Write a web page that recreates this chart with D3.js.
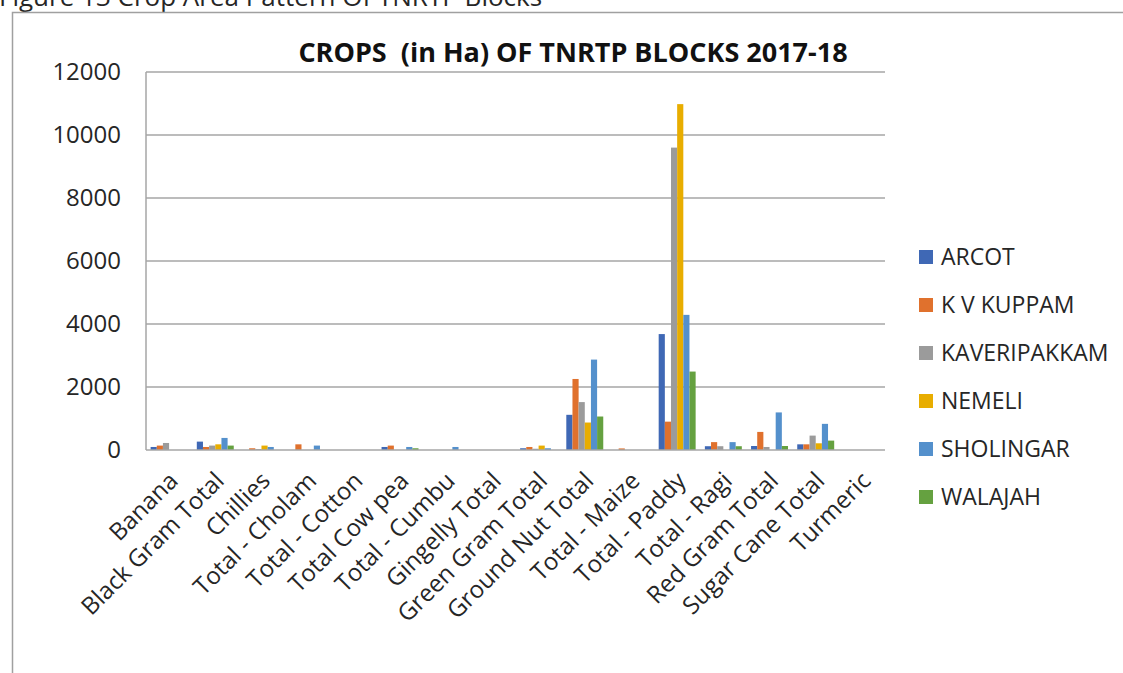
<!DOCTYPE html>
<html>
<head>
<meta charset="utf-8">
<script src="https://cdn.jsdelivr.net/npm/d3@7"></script>
<style>
  html, body { margin: 0; padding: 0; background: #fff; }
  svg { display: block; }
  text { font-family: "Open Sans", "Liberation Sans", sans-serif; fill: #262626; }
</style>
</head>
<body>
<svg id="chart" width="1123" height="673"></svg>
<script>
// Crop area (ha) per block, 2017-18
const categories = ["Banana", "Black Gram Total", "Chillies", "Total - Cholam", "Total - Cotton",
  "Total Cow pea", "Total - Cumbu", "Gingelly Total", "Green Gram Total", "Ground Nut Total",
  "Total - Maize", "Total - Paddy", "Total - Ragi", "Red Gram Total", "Sugar Cane Total", "Turmeric"];

const blocks = ["ARCOT", "K V KUPPAM", "KAVERIPAKKAM", "NEMELI", "SHOLINGAR", "WALAJAH"];

const arcot        = [96, 266, 0, 0, 0, 96, 0, 0, 55, 1117, 0, 3680, 120, 127, 180, 0];
const kvKuppam     = [140, 96, 55, 180, 0, 140, 0, 0, 96, 2255, 50, 900, 250, 574, 180, 0];
const kaveripakkam = [223, 140, 30, 0, 0, 0, 0, 0, 40, 1521, 0, 9600, 120, 96, 457, 0];
const nemeli       = [0, 180, 140, 0, 0, 0, 0, 0, 140, 872, 0, 10980, 0, 0, 213, 0];
const sholingar    = [0, 383, 96, 140, 0, 96, 96, 0, 55, 2870, 0, 4290, 250, 1193, 830, 0];
const walajah      = [0, 140, 0, 0, 0, 55, 0, 0, 0, 1063, 0, 2490, 120, 127, 298, 0];

const yTicks = [0, 2000, 4000, 6000, 8000, 10000, 12000];

const seriesValues = [arcot, kvKuppam, kaveripakkam, nemeli, sholingar, walajah];
const colors = ["#3f68b5", "#e0712d", "#9b9b9b", "#e8ad00", "#5490cc", "#65a140"];

const svg = d3.select("#chart");
const W = 1123, H = 673;
const plot = { left: 146, right: 885, top: 72, bottom: 450 };

svg.append("rect").attr("width", W).attr("height", H).attr("fill", "#fff");

// caption above the chart frame (runs into the top edge of the page)
svg.append("text")
  .attr("x", -1).attr("y", 6)
  .attr("font-size", 26)
  .text("Figure 13 Crop Area Pattern Of TNRTP Blocks");

// chart frame
svg.append("path")
  .attr("d", `M12.5,${H} V12.5 H${W}`)
  .attr("fill", "none").attr("stroke", "#a0a0a0").attr("stroke-width", 1.5);

// title
svg.append("text")
  .attr("x", 573).attr("y", 62)
  .attr("text-anchor", "middle")
  .attr("font-size", 27).attr("font-weight", "bold")
  .style("fill", "#111")
  .attr("xml:space", "preserve")
  .text("CROPS  (in Ha) OF TNRTP BLOCKS 2017-18");

const x0 = d3.scaleBand().domain(categories)
  .range([plot.left, plot.right]).paddingInner(0.2).paddingOuter(0.1);
const x1 = d3.scaleBand().domain(blocks).range([0, x0.bandwidth()]);
const y = d3.scaleLinear().domain([0, 12000]).range([plot.bottom, plot.top]);
const xc = d3.scaleBand().domain(categories).range([plot.left, plot.right]);

// gridlines
svg.append("g").selectAll("line").data(yTicks.filter(d => d > 0)).join("line")
  .attr("x1", plot.left).attr("x2", plot.right)
  .attr("y1", d => y(d)).attr("y2", d => y(d))
  .attr("stroke", "#a6a6a6").attr("stroke-width", 1.5);

// y axis labels
const yAxis = d3.axisLeft(y).tickValues(yTicks).tickFormat(d3.format("d")).tickSize(0).tickPadding(25);
const yg = svg.append("g").attr("transform", `translate(${plot.left},0)`).call(yAxis);
yg.select(".domain").remove();
yg.selectAll("text").attr("font-size", 24).style("font-family", "\"Open Sans\", sans-serif").style("fill", "#262626");

// bars
const groups = svg.append("g").selectAll("g").data(categories).join("g")
  .attr("transform", d => `translate(${x0(d)},0)`);
groups.selectAll("rect")
  .data((c, i) => blocks.map((b, s) => ({ block: b, s, v: seriesValues[s][i] })))
  .join("rect")
  .attr("x", d => x1(d.block))
  .attr("width", x1.bandwidth())
  .attr("y", d => y(d.v))
  .attr("height", d => y(0) - y(d.v))
  .attr("fill", d => colors[d.s]);

// axis lines
svg.append("line").attr("x1", plot.left).attr("x2", plot.left)
  .attr("y1", plot.top).attr("y2", plot.bottom)
  .attr("stroke", "#a6a6a6").attr("stroke-width", 1.5);
svg.append("line").attr("x1", plot.left).attr("x2", plot.right)
  .attr("y1", plot.bottom).attr("y2", plot.bottom)
  .attr("stroke", "#a6a6a6").attr("stroke-width", 1.5);

// rotated category labels
svg.append("g").selectAll("text").data(categories).join("text")
  .attr("transform", d => `translate(${xc(d) + xc.bandwidth() / 2 - 2},${plot.bottom + 20}) rotate(-45)`)
  .attr("text-anchor", "end")
  .attr("dy", "0.72em")
  .attr("font-size", 24)
  .text(d => d);

// legend
const legend = svg.append("g").selectAll("g").data(blocks).join("g")
  .attr("transform", (d, i) => `translate(919,${257 + i * 48})`);
legend.append("rect").attr("x", 0).attr("y", -7).attr("width", 14).attr("height", 14)
  .attr("fill", (d, i) => colors[i]);
legend.append("text").attr("x", 22).attr("dy", "0.36em")
  .attr("font-size", 23).text(d => d);
</script>
</body>
</html>
